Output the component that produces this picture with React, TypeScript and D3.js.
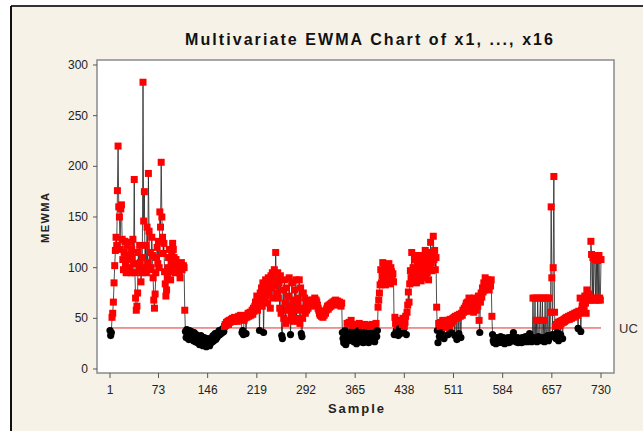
import React from "react";
import * as d3 from "d3";

const mewma: number[] = [
  38, 33, 36, 51, 55, 66, 85, 102, 117, 130,
  122, 176, 220, 160, 150, 118, 158, 162, 128, 108,
  98, 115, 126, 104, 95, 122, 108, 97, 112, 125,
  100, 95, 118, 110, 128, 104, 187, 95, 70, 58,
  62, 75, 115, 100, 122, 105, 86, 95, 110, 283,
  146, 175, 100, 122, 95, 140, 105, 193, 136, 98,
  115, 100, 130, 112, 90, 68, 60, 74, 95, 110,
  120, 104, 126, 100, 155, 140, 204, 150, 130, 114,
  124, 96, 84, 72, 78, 90, 100, 110, 118, 96,
  88, 104, 112, 124, 118, 110, 100, 95, 108, 100,
  98, 102, 100, 95, 90, 100, 105, 98, 101, 102,
  100, 58, 37, 31, 39, 33, 36, 29, 38, 34,
  31, 37, 30, 35, 28, 36, 32, 27, 34, 30,
  26, 32, 28, 24, 30, 33, 25, 29, 23, 27,
  31, 24, 28, 22, 26, 30, 24, 27, 23, 29,
  26, 31, 27, 33, 28, 32, 35, 29, 34, 31,
  36, 33, 38, 34, 37, 35, 39, 36, 40, 37,
  42, 44, 43, 46, 45, 47, 44, 48, 46, 47,
  49, 48, 50, 47, 49, 51, 48, 50, 49, 47,
  50, 52, 49, 51, 53, 50, 36, 38, 34, 48,
  50, 52, 35, 51, 53, 55, 52, 54, 56, 53,
  55, 58, 54, 60, 57, 62, 66, 60, 72, 58,
  70, 65, 38, 75, 68, 80, 62, 85, 36, 70,
  78, 88, 72, 82, 65, 90, 75, 85, 60, 92,
  80, 95, 70, 85, 98, 82, 115, 88, 75, 95,
  70, 85, 60, 92, 55, 33, 30, 78, 50, 88,
  65, 45, 80, 58, 72, 48, 90, 62, 34, 52,
  85, 55, 68, 47, 78, 60, 88, 50, 70, 65,
  58, 88, 45, 80, 35, 32, 50, 75, 60, 70,
  55, 62, 58, 66, 60, 68, 63, 65, 67, 62,
  66, 68, 64, 67, 70, 65, 68, 66, 63, 60,
  58, 55, 53, 56, 52, 54, 51, 55, 53, 57,
  55, 58, 60, 62, 59, 63, 61, 64, 62, 65,
  63, 66, 64, 67, 65, 68, 66, 64, 67, 65,
  63, 66, 64, 62, 65, 36, 30, 26, 33, 38,
  24, 35, 45, 32, 28, 46, 34, 30, 48, 37,
  43, 33, 27, 36, 44, 31, 25, 35, 29, 38,
  45, 32, 27, 34, 43, 30, 26, 36, 44, 33,
  28, 35, 43, 31, 26, 37, 42, 33, 29, 44,
  35, 30, 43, 27, 36, 45, 32, 38, 61, 68,
  75, 83, 98, 85, 92, 105, 88, 100, 95, 83,
  102, 90, 86, 98, 104, 92, 84, 100, 96, 88,
  94, 86, 34, 51, 45, 38, 48, 43, 33, 46,
  40, 35, 48, 37, 44, 50, 36, 42, 46, 52,
  34, 56, 63, 76, 66, 84, 97, 90, 115, 95,
  100, 88, 108, 95, 112, 85, 104, 98, 90, 110,
  95, 108, 87, 100, 112, 96, 105, 90, 117, 100,
  107, 95, 110, 88, 115, 100, 125, 105, 97, 112,
  131, 108, 117, 98, 110, 61, 38, 26, 45, 32,
  42, 46, 36, 44, 48, 43, 30, 47, 45, 41,
  44, 48, 34, 46, 42, 49, 45, 36, 47, 50,
  48, 51, 33, 52, 50, 29, 53, 51, 35, 54,
  52, 31, 55, 53, 58, 56, 60, 57, 62, 65,
  58, 66, 60, 70, 57, 64, 59, 68, 62, 66,
  56, 70, 60, 65, 58, 68, 62, 72, 48, 36,
  66, 75, 71, 80, 76, 85, 78, 90, 82, 86,
  80, 88, 84, 78, 86, 82, 88, 52, 34, 28,
  26, 30, 28, 25, 31, 27, 29, 26, 30, 28,
  32, 27, 29, 26, 31, 28, 25, 30, 27, 29,
  28, 31, 26, 29, 27, 30, 28, 32, 29, 36,
  31, 28, 30, 27, 29, 31, 26, 28, 30, 27,
  29, 26, 31, 28, 30, 27, 29, 32, 28, 30,
  27, 29, 31, 35, 28, 30, 27, 29, 70, 31,
  28, 70, 30, 48, 27, 70, 32, 29, 48, 70,
  30, 28, 70, 31, 48, 27, 70, 30, 29, 70,
  33, 28, 70, 31, 56, 160, 90, 34, 100, 190,
  56, 42, 30, 44, 36, 46, 28, 43, 47, 34,
  45, 48, 30, 46, 49, 47, 50, 48, 51, 49,
  50, 52, 49, 51, 53, 50, 52, 54, 51, 53,
  55, 52, 54, 56, 53, 40, 57, 55, 70, 37,
  58, 62, 56, 68, 60, 72, 65, 55, 78, 70,
  68, 74, 70, 68, 126, 113, 68, 110, 70, 112,
  108, 68, 110, 70, 107, 68, 112, 70, 68, 108,
];

const UCL = 40.5;
const xTickValues = [1, 73, 146, 219, 292, 365, 438, 511, 584, 657, 730];
const yTickValues = [0, 50, 100, 150, 200, 250, 300];
const titleText = "Multivariate EWMA Chart of x1, ..., x16";
const xLabel = "Sample";
const yLabel = "MEWMA";
const uclLabel = "UC";

export default function App() {
  const W = 643, H = 431;
  const frame = { l: 97, r: 614, t: 60, b: 373 };
  const x = d3.scaleLinear().domain([1, 730]).range([110, 601]);
  const y = d3.scaleLinear().domain([0, 300]).range([369, 65]);
  const pts = mewma.map((v, i) => ({ s: i + 1, v }));
  const line = d3.line<{ s: number; v: number }>().x(d => x(d.s)).y(d => y(d.v));
  const sq = 7;
  const font = "'Liberation Sans', Arial, sans-serif";

  return (
    <svg width={W} height={H} style={{ position: "fixed", left: 0, top: 0, background: "#fff" }}>
      <rect x={11} y={6} width={W - 11} height={H - 6} fill="#f6f2e8" />
      <line x1={11} y1={6} x2={W} y2={6} stroke="#333" strokeWidth={2} />
      <line x1={11} y1={6} x2={11} y2={H} stroke="#111" strokeWidth={2} />
      <text x={369} y={45} textAnchor="middle" fontFamily={font} fontWeight="bold" fontSize={16}
        textLength={368} lengthAdjust="spacing" fill="#111">{titleText}</text>
      <rect x={frame.l} y={frame.t} width={frame.r - frame.l} height={frame.b - frame.t}
        fill="#fff" stroke="#8a8a8a" strokeWidth={1.5} />
      {yTickValues.map(t => (
        <g key={"y" + t}>
          <line x1={frame.l - 4} x2={frame.l} y1={y(t)} y2={y(t)} stroke="#555" />
          <text x={frame.l - 9} y={y(t) + 4} textAnchor="end" fontFamily={font} fontSize={12} fill="#222">{t}</text>
        </g>
      ))}
      {xTickValues.map(t => (
        <g key={"x" + t}>
          <line x1={x(t)} x2={x(t)} y1={frame.b} y2={frame.b + 5} stroke="#555" />
          <text x={x(t)} y={394} textAnchor="middle" fontFamily={font} fontSize={12} fill="#222">{t}</text>
        </g>
      ))}
      <text x={356} y={413} textAnchor="middle" fontFamily={font} fontWeight="bold" fontSize={13}
        textLength={56} lengthAdjust="spacing" fill="#222">{xLabel}</text>
      <text transform={`translate(49,218) rotate(-90)`} textAnchor="middle" fontFamily={font}
        fontWeight="bold" fontSize={11} textLength={50} lengthAdjust="spacing" fill="#222">{yLabel}</text>
      <line x1={x(1)} x2={x(730)} y1={y(UCL)} y2={y(UCL)} stroke="#e03030" strokeWidth={1} />
      <text x={619} y={y(UCL) + 5} fontFamily={font} fontSize={13} fill="#333">{uclLabel}</text>
      <path d={line(pts) || ""} fill="none" stroke="#222" strokeWidth={0.8} />
      {pts.map(p =>
        p.v > UCL ? (
          <rect key={p.s} x={x(p.s) - sq / 2} y={y(p.v) - sq / 2} width={sq} height={sq} fill="#f00" />
        ) : (
          <circle key={p.s} cx={x(p.s)} cy={y(p.v)} r={3.6} fill="#000" />
        )
      )}
    </svg>
  );
}
